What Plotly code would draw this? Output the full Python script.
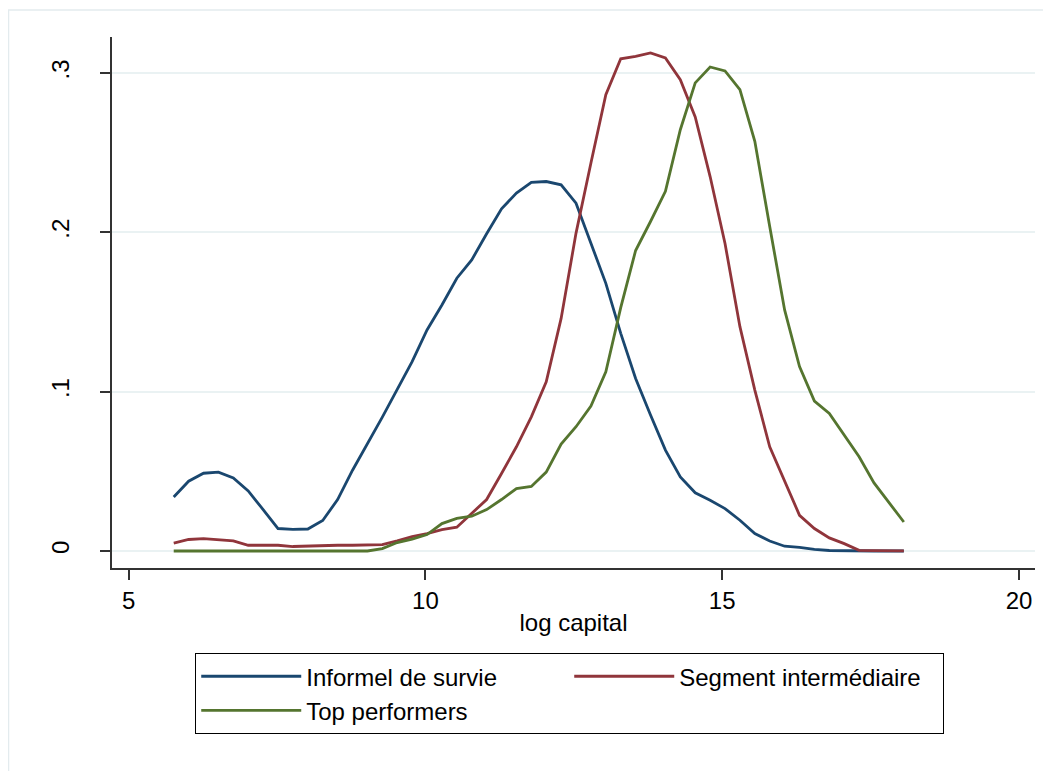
import numpy as np
import plotly.graph_objects as go

# Evaluation grid (log capital) - 50 points as in the kernel density estimates
x_start = 5.76
x_end = 18.06
n_points = 50
log_capital = np.linspace(x_start, x_end, n_points)

informel_de_survie = [
    0.0339, 0.0438, 0.0488, 0.0495, 0.0459, 0.0377, 0.0260, 0.0141, 0.0136, 0.0138,
    0.0191, 0.0323, 0.0507, 0.0669, 0.0840, 0.1014, 0.1188, 0.1387, 0.1544, 0.1712,
    0.1827, 0.1991, 0.2148, 0.2246, 0.2313, 0.2319, 0.2298, 0.2183, 0.1930, 0.1680,
    0.1366, 0.1083, 0.0853, 0.0633, 0.0465, 0.0365, 0.0319, 0.0266, 0.0193, 0.0109,
    0.0063, 0.0030, 0.0023, 0.0010, 0.0003, 0.0001, 0.0000, 0.0000, 0.0000, 0.0000,
]

segment_intermediaire = [
    0.0050, 0.0072, 0.0078, 0.0072, 0.0063, 0.0036, 0.0036, 0.0036, 0.0028, 0.0032,
    0.0032, 0.0036, 0.0036, 0.0040, 0.0040, 0.0063, 0.0090, 0.0109, 0.0134, 0.0149,
    0.0235, 0.0323, 0.0486, 0.0654, 0.0842, 0.1062, 0.1460, 0.1995, 0.2435, 0.2864,
    0.3089, 0.3105, 0.3126, 0.3095, 0.2958, 0.2724, 0.2350, 0.1930, 0.1408, 0.1010,
    0.0654, 0.0444, 0.0224, 0.0141, 0.0082, 0.0046, 0.0004, 0.0002, 0.0001, 0.0001,
]

top_performers = [
    0.0000, 0.0000, 0.0000, 0.0000, 0.0000, 0.0000, 0.0000, 0.0000, 0.0000, 0.0000,
    0.0000, 0.0000, 0.0000, 0.0000, 0.0015, 0.0053, 0.0074, 0.0103, 0.0172, 0.0204,
    0.0218, 0.0260, 0.0323, 0.0392, 0.0405, 0.0495, 0.0671, 0.0780, 0.0910, 0.1125,
    0.1527, 0.1886, 0.2068, 0.2257, 0.2644, 0.2938, 0.3038, 0.3013, 0.2896, 0.2571,
    0.2037, 0.1513, 0.1157, 0.0941, 0.0863, 0.0727, 0.0591, 0.0427, 0.0302, 0.0182,
]

series_names = ["Informel de survie", "Segment intermédiaire", "Top performers"]
series_values = [informel_de_survie, segment_intermediaire, top_performers]
series_colors = ["#1A476F", "#90353B", "#55752F"]

x_tickvals = [5, 10, 15, 20]
x_ticktext = ["5", "10", "15", "20"]
y_tickvals = [0, 0.1, 0.2, 0.3]
y_ticktext = ["0", ".1", ".2", ".3"]

FONT = "Liberation Sans, Arial, Helvetica, sans-serif"
FS = 24
GRID = "#EAF2F3"

fig = go.Figure()
for name, vals, col in zip(series_names, series_values, series_colors):
    fig.add_trace(go.Scatter(
        x=log_capital, y=vals, mode="lines", name=name,
        line=dict(color=col, width=2.8),
    ))

fig.update_layout(
    width=1043, height=763,
    margin=dict(l=104, r=16, t=29, b=203),
    paper_bgcolor="white", plot_bgcolor="white",
    font=dict(family=FONT, size=FS, color="black"),
    showlegend=True,
    legend=dict(
        orientation="h",
        x=0.4957, xanchor="center",
        y=-0.160, yanchor="top",
        bordercolor="black", borderwidth=1.2,
        entrywidth=258, entrywidthmode="pixels",
        itemwidth=100,
        font=dict(family=FONT, size=FS, color="black"),
        bgcolor="white",
        traceorder="normal",
    ),
    xaxis=dict(
        range=[4.72, 20.27],
        tickmode="array", tickvals=x_tickvals, ticktext=x_ticktext,
        ticks="outside", ticklen=10, tickwidth=1.5, tickcolor="#333333",
        showline=True, linecolor="#333333", linewidth=1.5,
        showgrid=False, zeroline=False,
        tickfont=dict(family=FONT, size=FS, color="black"),
        title=dict(text="log capital", font=dict(family=FONT, size=FS, color="black"), standoff=2),
    ),
    yaxis=dict(
        range=[-0.01068, 0.3226],
        tickmode="array", tickvals=y_tickvals, ticktext=y_ticktext,
        tickangle=-90,
        ticks="outside", ticklen=10, tickwidth=1.5, tickcolor="#333333",
        showline=True, linecolor="#333333", linewidth=1.5,
        showgrid=True, gridcolor=GRID, gridwidth=1.5,
        zeroline=False,
        tickfont=dict(family=FONT, size=FS, color="black"),
        ticklabelstandoff=22,
    ),
)

# faint outer graph-region border (top and left edges visible in the reference)
fig.add_shape(type="line", xref="paper", yref="paper",
              x0=(8 - 112) / 923, x1=1.02, y0=(568 - 10) / 531, y1=(568 - 10) / 531,
              line=dict(color="#E3EBEE", width=1.5), layer="below")
fig.add_shape(type="line", xref="paper", yref="paper",
              x0=(8.5 - 112) / 923, x1=(8.5 - 112) / 923, y0=-0.4, y1=(568 - 10) / 531,
              line=dict(color="#E3EBEE", width=1.5), layer="below")

fig.write_html("out.html")
